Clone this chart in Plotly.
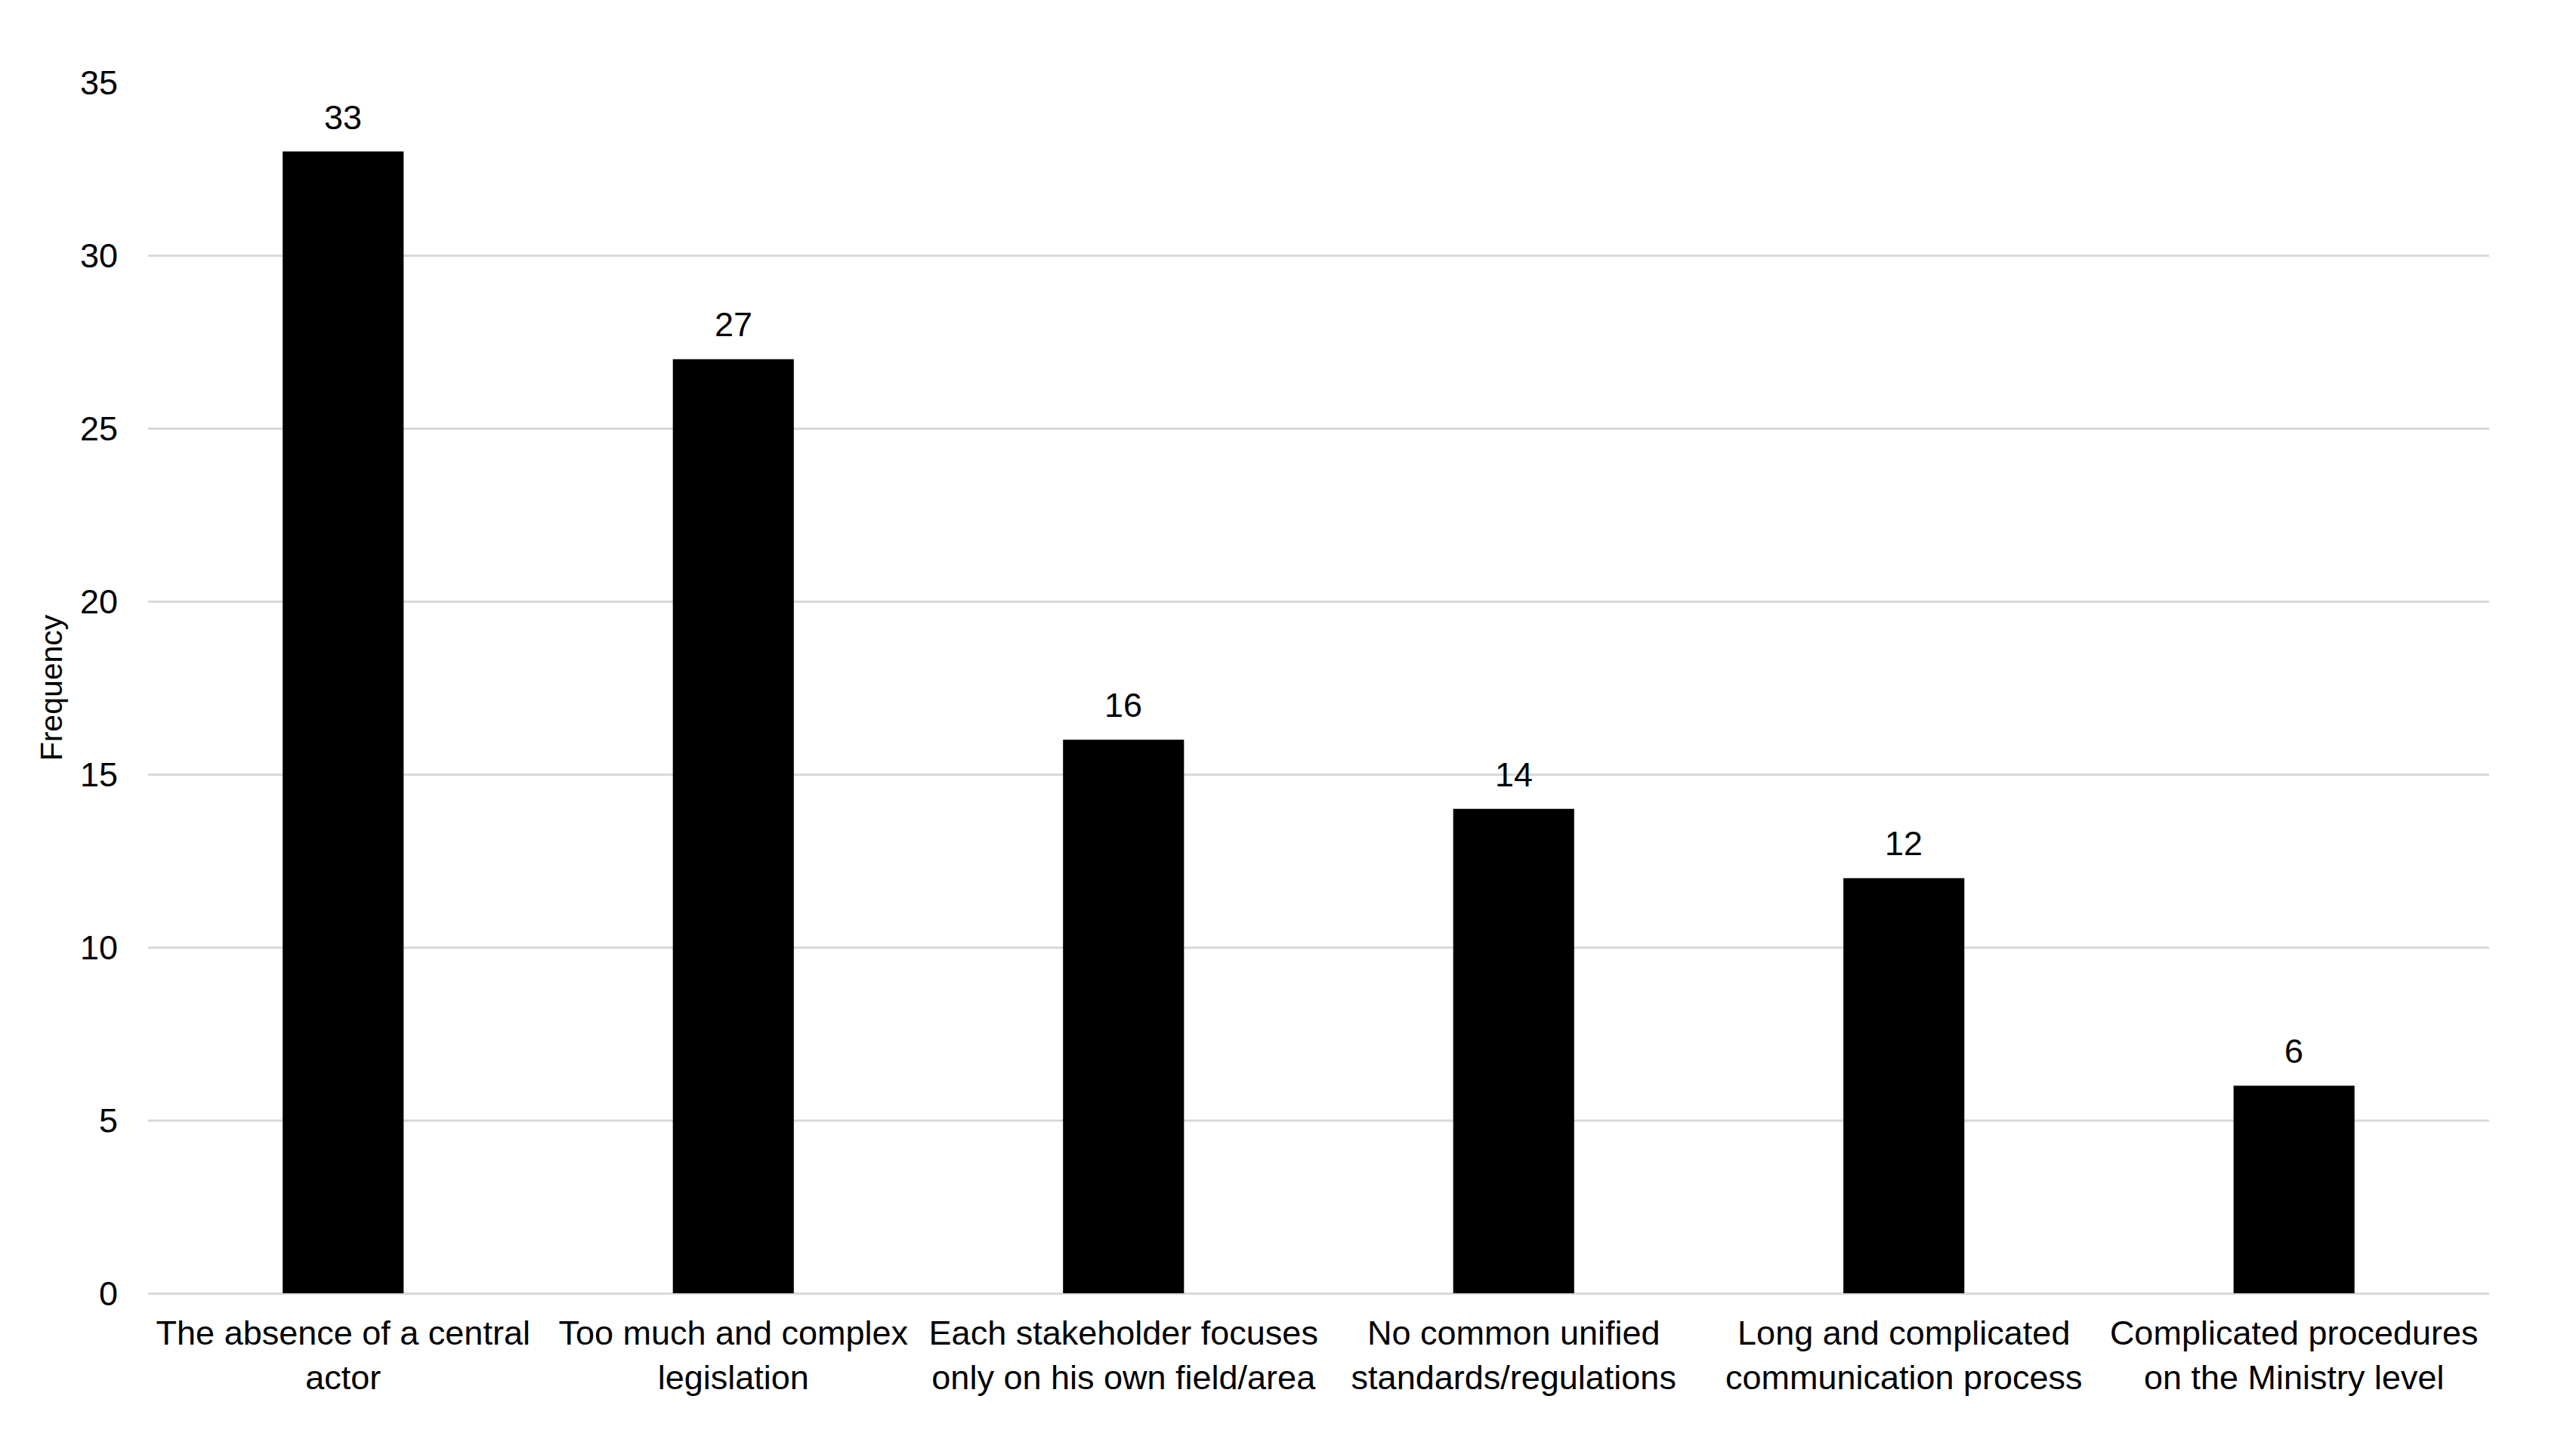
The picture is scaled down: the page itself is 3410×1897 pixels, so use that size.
import plotly.graph_objects as go

categories = [
    "The absence of a central<br>actor",
    "Too much and complex<br>legislation",
    "Each stakeholder focuses<br>only on his own field/area",
    "No common unified<br>standards/regulations",
    "Long and complicated<br>communication process",
    "Complicated procedures<br>on the Ministry level",
]
frequency = [33, 27, 16, 14, 12, 6]
y_ticks = [0, 5, 10, 15, 20, 25, 30, 35]

FONT = "Liberation Sans, Arial, sans-serif"
FS = 45

fig = go.Figure(
    go.Bar(
        x=categories,
        y=frequency,
        marker=dict(color="#000000", line=dict(width=0)),
        cliponaxis=False,
    )
)

for c, v in zip(categories, frequency):
    fig.add_annotation(
        x=c, y=v, text=str(v), showarrow=False,
        yanchor="bottom", yshift=18,
        font=dict(family=FONT, size=FS, color="#000000"),
    )

fig.update_layout(
    width=3394,
    height=1881,
    margin=dict(l=188, r=107, t=101, b=177),
    paper_bgcolor="white",
    plot_bgcolor="white",
    bargap=0.69,
    showlegend=False,
    font=dict(family=FONT, size=FS, color="#000000"),
)

fig.update_xaxes(
    showgrid=False,
    showline=False,
    ticks="outside",
    ticklen=13,
    tickcolor="rgba(0,0,0,0)",
    tickfont=dict(family=FONT, size=FS, color="#000000"),
)

fig.update_yaxes(
    range=[0, 35],
    tickvals=y_ticks,
    showgrid=True,
    gridcolor="#d9d9d9",
    gridwidth=3,
    zeroline=True,
    zerolinecolor="#d9d9d9",
    zerolinewidth=3,
    showline=False,
    ticks="outside",
    ticklen=30,
    tickcolor="rgba(0,0,0,0)",
    tickfont=dict(family=FONT, size=FS, color="#000000"),
    title=dict(text="Frequency", font=dict(family=FONT, size=FS - 4, color="#000000"), standoff=10),
)

fig.write_html("out.html")
